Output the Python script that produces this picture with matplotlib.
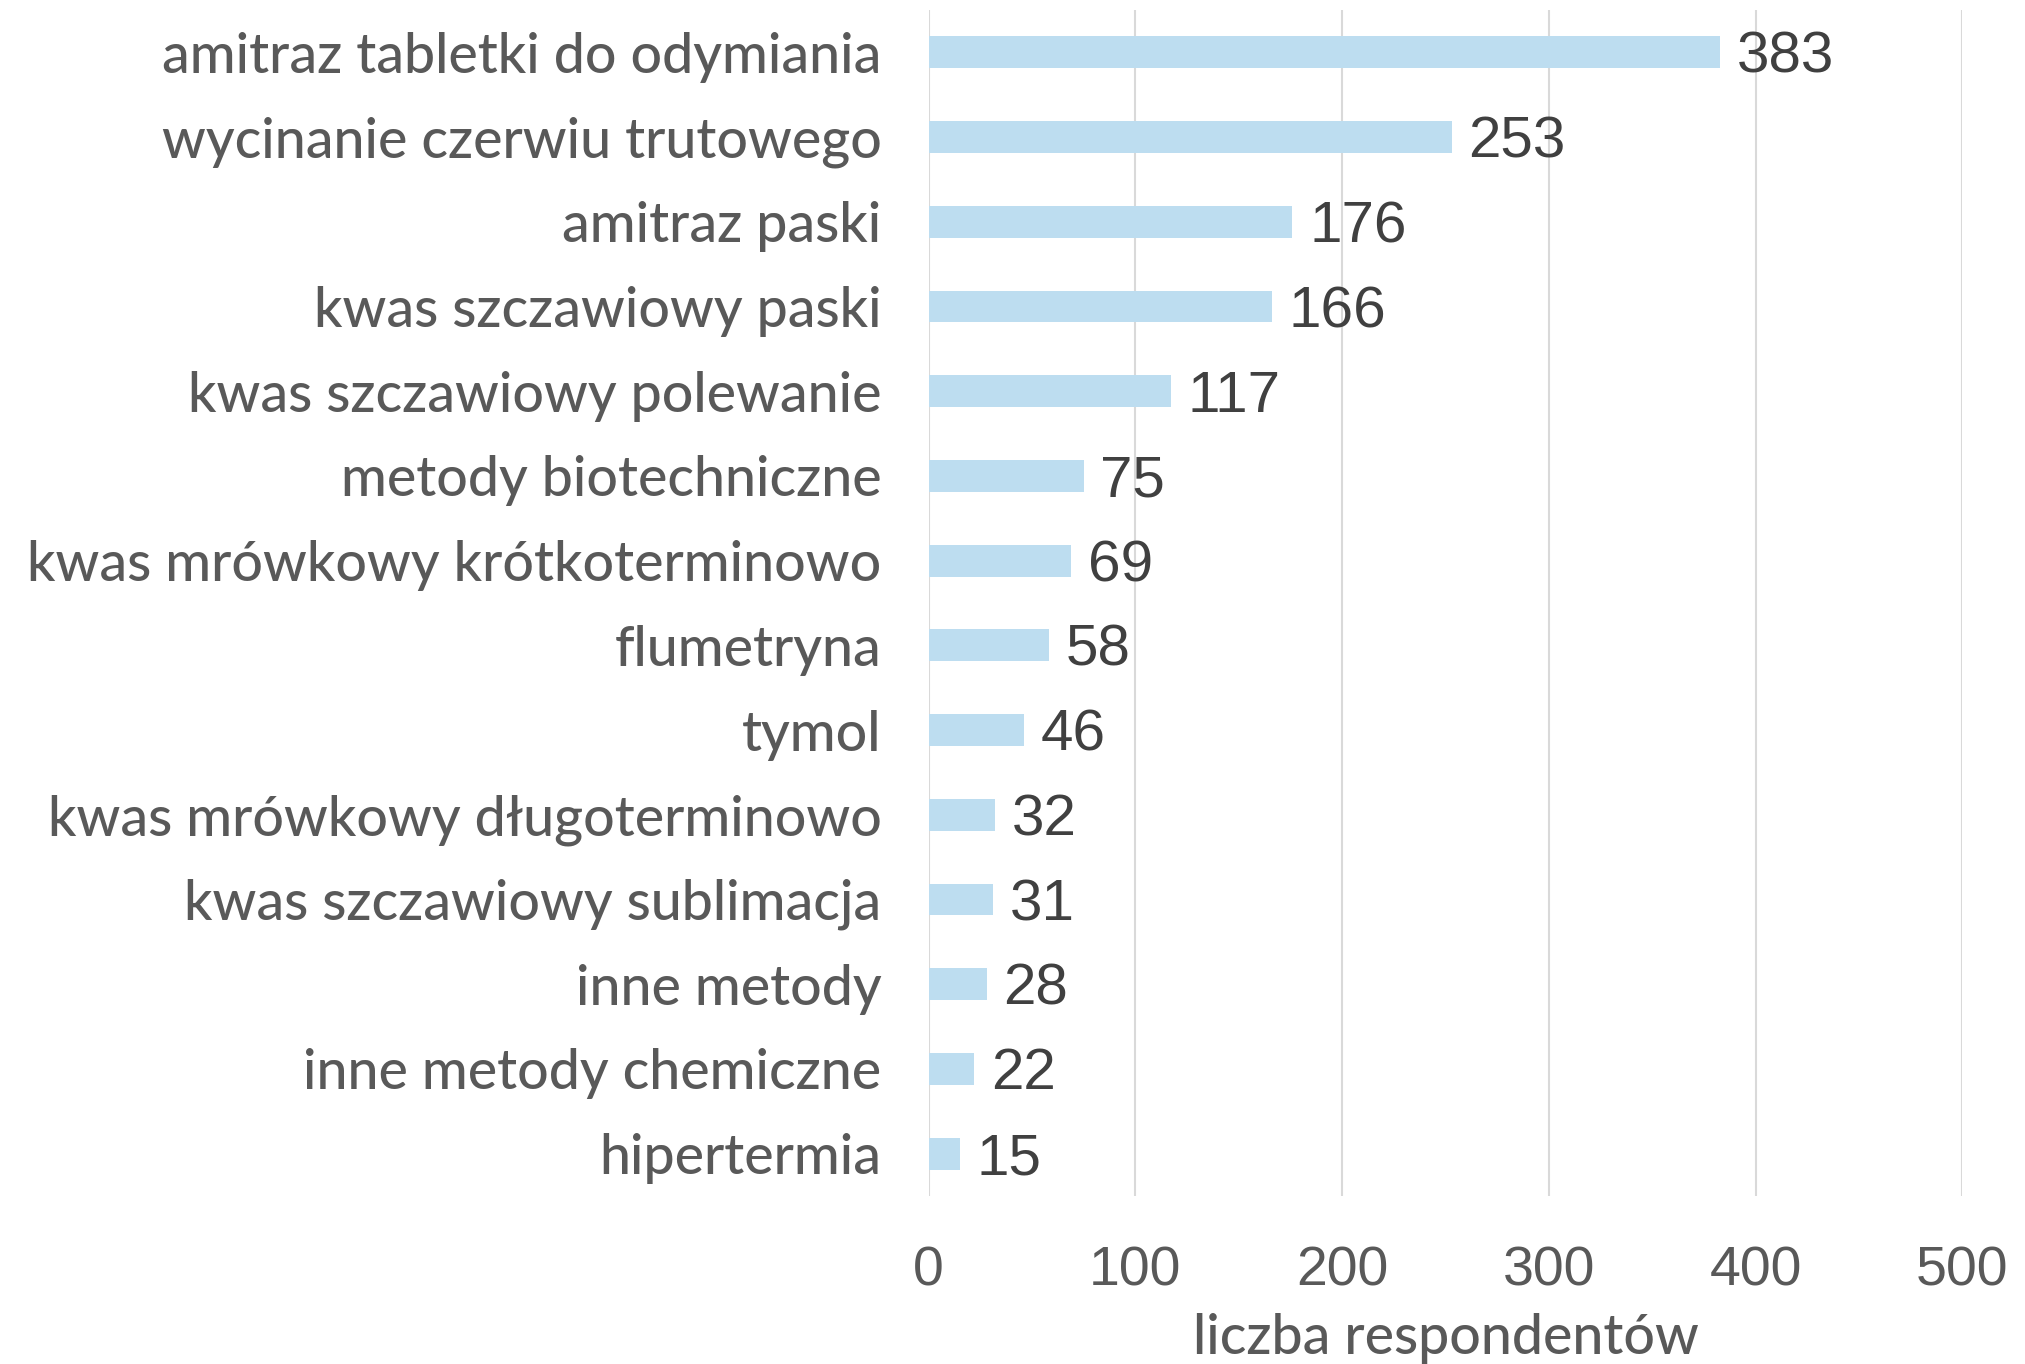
import matplotlib
matplotlib.use("Agg")
import matplotlib.pyplot as plt

categories = [
    "amitraz tabletki do odymiania",
    "wycinanie czerwiu trutowego",
    "amitraz paski",
    "kwas szczawiowy paski",
    "kwas szczawiowy polewanie",
    "metody biotechniczne",
    "kwas mrówkowy krótkoterminowo",
    "flumetryna",
    "tymol",
    "kwas mrówkowy długoterminowo",
    "kwas szczawiowy sublimacja",
    "inne metody",
    "inne metody chemiczne",
    "hipertermia",
]
values = [383, 253, 176, 166, 117, 75, 69, 58, 46, 32, 31, 28, 22, 15]
xticks = [0, 100, 200, 300, 400, 500]
xlabel = "liczba respondentów"

plt.rcParams['font.family'] = ['Lato', 'DejaVu Sans']
num_font = ['Liberation Sans', 'DejaVu Sans']

fig = plt.figure(figsize=(20.25, 13.64), dpi=100)
ax = fig.add_axes([0.4586, 0.1232, 0.969 - 0.4586, 0.9927 - 0.1232])

ypos = list(range(len(categories)))
ax.barh(ypos, values, height=0.376, color="#BDDDF0", zorder=2)
ax.set_ylim(len(categories) - 0.5, -0.5)
ax.set_xlim(0, 500)
ax.set_xticks(xticks)
ax.set_xticklabels([str(t) for t in xticks], family=num_font, fontsize=40, color="#595959")
ax.set_yticks(ypos)
ax.set_yticklabels(categories, fontsize=40, fontweight="medium", color="#595959")

ax.grid(axis="x", color="#D9D9D9", linewidth=1.5, zorder=0)
ax.set_axisbelow(True)
for s in ax.spines.values():
    s.set_visible(False)
ax.tick_params(axis="y", length=0, pad=34)
ax.tick_params(axis="x", length=0, pad=36)

for y, v in zip(ypos, values):
    ax.annotate(str(v), xy=(v, y), xytext=(12, -4), textcoords="offset points",
                ha="left", va="center", fontsize=42, color="#404040", family=num_font)

ax.set_xlabel(xlabel, fontsize=40, fontweight="medium", color="#595959", labelpad=11)

fig.savefig("out.png", dpi=100)
